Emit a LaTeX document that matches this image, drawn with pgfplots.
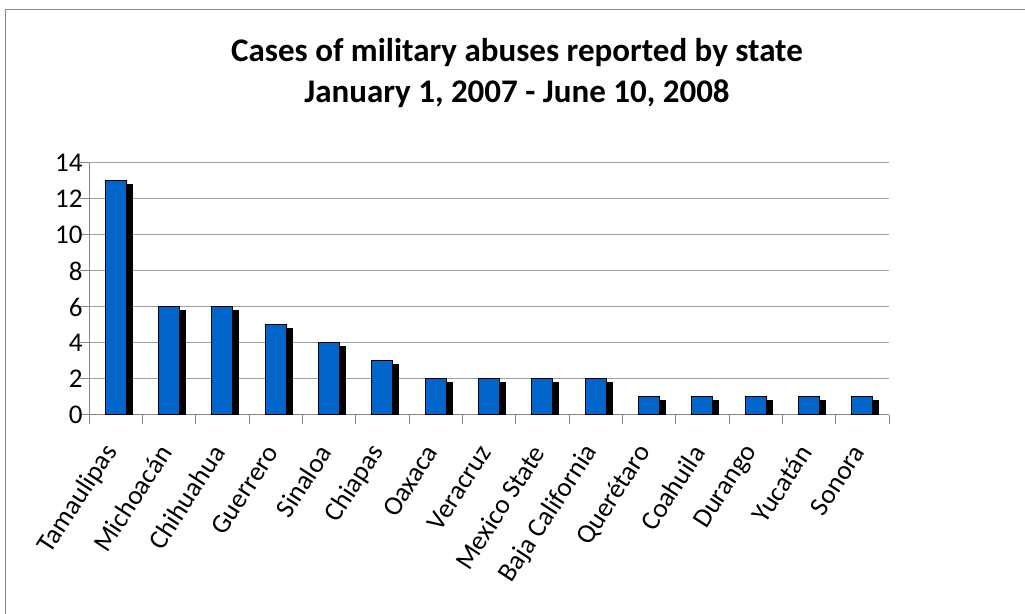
\documentclass[border=0pt]{standalone}
\usepackage{fontspec}
\setmainfont{Carlito}
\usepackage{pgfplots}
\pgfplotsset{compat=1.18}
\usetikzlibrary{shadows}
\definecolor{barblue}{RGB}{0,102,204}
\definecolor{gridgray}{RGB}{160,160,160}
\definecolor{axisgray}{RGB}{134,134,134}
\begin{document}
\begin{tikzpicture}[x=1pt,y=1pt]
\useasboundingbox (0,0) rectangle (1025,613);
\draw[axisgray, line width=1.5pt] (5.5,-10) -- (5.5,603.5) -- (1040,603.5);
\node[font=\fontsize{33}{38}\selectfont\bfseries, anchor=base] at (517,551) {Cases of military abuses reported by state};
\node[font=\fontsize{33}{38}\selectfont\bfseries, anchor=base] at (517,510) {January 1, 2007 - June 10, 2008};
\begin{axis}[
  at={(89pt,198pt)}, anchor=south west,
  scale only axis, width=800pt, height=252pt,
  xmin=-0.5, xmax=14.5, ymin=0, ymax=14,
  ytick={0,2,...,14},
  ymajorgrids, grid style={gridgray, line width=1pt},
  axis x line*=bottom, axis y line*=left,
  axis line style={axisgray, line width=1pt},
  tick style={axisgray, line width=1pt},
  tick align=outside, major tick length=9pt,
  xtick={-0.5,0.5,...,14.5},
  x tick label as interval,
  xticklabels={Tamaulipas,Michoacán,Chihuahua,Guerrero,Sinaloa,Chiapas,Oaxaca,Veracruz,Mexico State,Baja California,Querétaro,Coahuila,Durango,Yucatán,Sonora},
  xticklabel style={font=\fontsize{27}{30}\selectfont, xshift=-2pt, yshift=-21pt, rotate=57, anchor=east},
  yticklabel style={font=\fontsize{27}{30}\selectfont, xshift=6pt},
  /pgf/number format/assume math mode=true,
  ybar, bar width=21pt,
]
\addplot[fill=barblue, draw=black, line width=1pt,
  drop shadow={shadow xshift=6pt, shadow yshift=-4pt, fill=black, opacity=1}]
  coordinates {(0,13) (1,6) (2,6) (3,5) (4,4) (5,3) (6,2) (7,2) (8,2) (9,2) (10,1) (11,1) (12,1) (13,1) (14,1)};
\end{axis}
\end{tikzpicture}
\end{document}
